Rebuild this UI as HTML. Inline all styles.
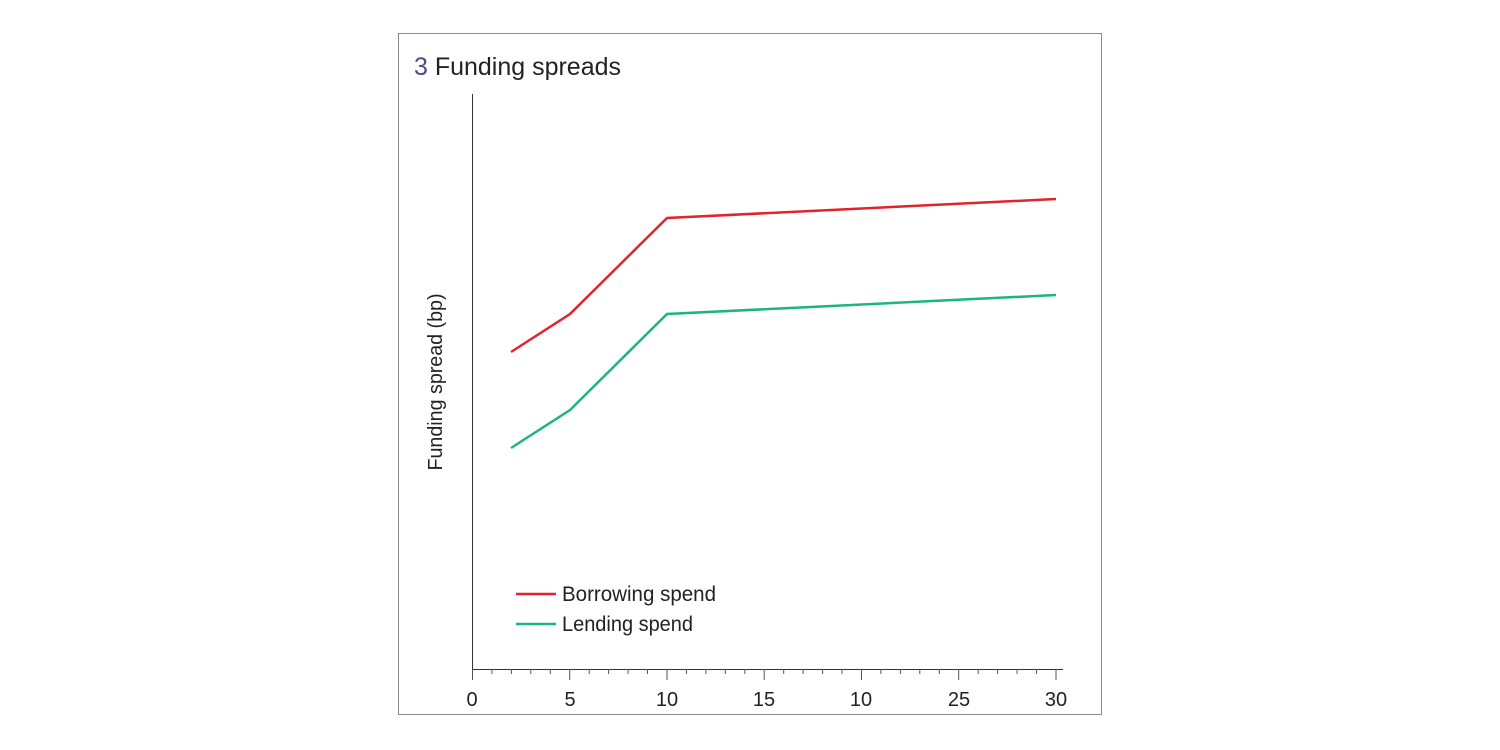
<!DOCTYPE html>
<html><head><meta charset="utf-8"><style>
body{margin:0;background:#fff;}
svg{display:block;font-family:"Liberation Sans",sans-serif;}
</style></head><body>
<svg width="1500" height="750" viewBox="0 0 1500 750">
<rect x="398.5" y="33.5" width="703" height="681" fill="#fff" stroke="#8a8a8a" stroke-width="1"/>
<text x="414" y="75" font-size="25" fill="#222" textLength="207" lengthAdjust="spacingAndGlyphs"><tspan fill="#4a4a8a">3</tspan> Funding spreads</text>
<line x1="472.5" y1="94" x2="472.5" y2="669" stroke="#333" stroke-width="1"/>
<line x1="472" y1="669.5" x2="1063" y2="669.5" stroke="#333" stroke-width="1"/>
<g stroke="#555" stroke-width="1">
<path d="M472.5 669V680M491.9 669V674M511.4 669V674M530.8 669V674M550.3 669V674M569.7 669V680M589.2 669V674M608.6 669V674M628.1 669V674M647.5 669V674M667 669V680M686.4 669V674M705.9 669V674M725.3 669V674M744.8 669V674M764.2 669V680M783.7 669V674M803.1 669V674M822.6 669V674M842 669V674M861.5 669V680M880.9 669V674M900.4 669V674M919.8 669V674M939.3 669V674M958.7 669V680M978.2 669V674M997.6 669V674M1017.1 669V674M1036.5 669V674M1056 669V680"/>
</g>
<g font-size="20" fill="#222" text-anchor="middle">
<text x="472" y="706">0</text><text x="570" y="706">5</text><text x="667" y="706">10</text><text x="764" y="706">15</text><text x="861" y="706">10</text><text x="959" y="706">25</text><text x="1056" y="706">30</text>
</g>
<text transform="translate(442,382) rotate(-90)" font-size="20" fill="#222" text-anchor="middle" textLength="177" lengthAdjust="spacingAndGlyphs">Funding spread (bp)</text>
<polyline points="511,352 570,314 667,218 1056,199" fill="none" stroke="#e0242b" stroke-width="2.5"/>
<polyline points="511,448 570,410 667,314 1056,295" fill="none" stroke="#1eb482" stroke-width="2.5"/>
<line x1="516" y1="594" x2="556" y2="594" stroke="#e0242b" stroke-width="2.5"/>
<line x1="516" y1="624" x2="556" y2="624" stroke="#1eb482" stroke-width="2.5"/>
<text x="562" y="601" font-size="21" fill="#222" textLength="154" lengthAdjust="spacingAndGlyphs">Borrowing spend</text>
<text x="562" y="631" font-size="21" fill="#222" textLength="131" lengthAdjust="spacingAndGlyphs">Lending spend</text>
</svg>
</body></html>
